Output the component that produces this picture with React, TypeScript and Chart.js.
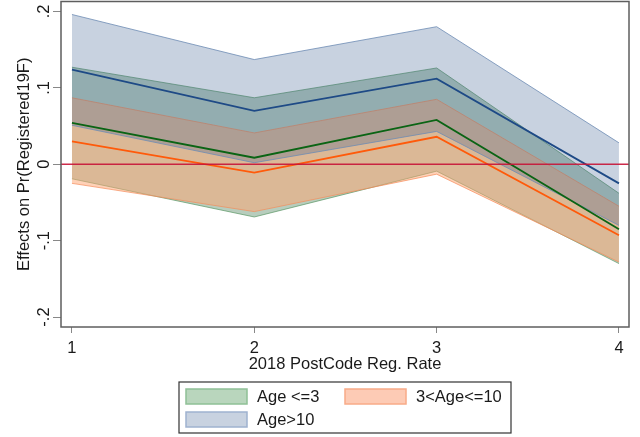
import React, { useEffect, useRef } from "react";
import { Chart, registerables } from "chart.js";

Chart.register(...registerables);

// ---- data ----
const xCategories = [1, 2, 3, 4];
const xTickLabels = ["1", "2", "3", "4"];
const yTickValues = [-0.2, -0.1, 0, 0.1, 0.2];
const yTickLabels = ["-.2", "-.1", "0", ".1", ".2"];
const xMin = 0.94;
const xMax = 4.055;
const yMin = -0.213;
const yMax = 0.213;
const refLineValue = 0;

const groupLabels = ["Age <=3", "3<Age<=10", "Age>10"];

const age3Est = [0.054, 0.0085, 0.058, -0.085];
const age3Lo = [-0.019, -0.069, -0.009, -0.13];
const age3Hi = [0.127, 0.087, 0.126, -0.038];

const age10Est = [0.03, -0.011, 0.036, -0.093];
const age10Lo = [-0.025, -0.062, -0.013, -0.128];
const age10Hi = [0.087, 0.041, 0.085, -0.055];

const ageOldEst = [0.124, 0.07, 0.112, -0.025];
const ageOldLo = [0.051, 0.002, 0.043, -0.08];
const ageOldHi = [0.196, 0.137, 0.18, 0.028];

const xAxisTitle = "2018 PostCode Reg. Rate";
const yAxisTitle = "Effects on Pr(Registered19F)";

// ---- styles ----
const FONT = "'Liberation Sans', Arial, sans-serif";
const FS = 16.5;
const TEXT = "#1a1a1a";
const bandFill = ["rgba(75,130,89,0.4)", "rgba(255,163,111,0.5)", "rgba(50,90,140,0.27)"];
const bandEdge = ["rgba(90,150,100,0.7)", "rgba(245,140,90,0.7)", "rgba(110,140,180,0.8)"];
const legendFill = ["#b9d6bd", "#fdcbb5", "#c8d2e0"];
const legendEdge = ["#8fc096", "#f8ab88", "#9fb2cf"];
const lineColors = ["#0a6414", "#ff5a0a", "#1e4a86"];
const bandOrder = [3, 2, 1];

const toPts = (arr: number[]) => arr.map((y, i) => ({ x: xCategories[i], y }));

const framePlugin = {
  id: "frame",
  afterDatasetsDraw(chart: any) {
    const { ctx, chartArea } = chart;
    const yScale = chart.scales.y;
    const y0 = yScale.getPixelForValue(refLineValue);
    ctx.save();
    ctx.strokeStyle = "rgba(200,20,55,0.9)";
    ctx.lineWidth = 1.5;
    ctx.beginPath();
    ctx.moveTo(chartArea.left, y0);
    ctx.lineTo(chartArea.right, y0);
    ctx.stroke();
    ctx.strokeStyle = "#5e5e5e";
    ctx.lineWidth = 1.5;
    ctx.strokeRect(chartArea.left, chartArea.top, chartArea.right - chartArea.left, chartArea.bottom - chartArea.top);
    ctx.restore();
  },
};

// rotated y tick labels, placed through the y scale
const yLabelPlugin = {
  id: "yLabels",
  afterDraw(chart: any) {
    const { ctx, chartArea } = chart;
    const yScale = chart.scales.y;
    ctx.save();
    ctx.font = `${FS}px ${FONT}`;
    ctx.fillStyle = TEXT;
    ctx.textAlign = "center";
    ctx.textBaseline = "alphabetic";
    yTickValues.forEach((v, i) => {
      const py = yScale.getPixelForValue(v);
      ctx.save();
      ctx.translate(chartArea.left - 12, py);
      ctx.rotate(-Math.PI / 2);
      ctx.fillText(yTickLabels[i], 0, 0);
      ctx.restore();
    });
    ctx.restore();
  },
};

const legendPlugin = {
  id: "boxLegend",
  afterDraw(chart: any) {
    const { ctx, chartArea } = chart;
    const cx = (chartArea.left + chartArea.right) / 2;
    const boxW = 332;
    const left = cx - boxW / 2;
    const top = 382;
    const boxH = 51;
    ctx.save();
    ctx.fillStyle = "#ffffff";
    ctx.fillRect(left, top, boxW, boxH);
    ctx.strokeStyle = "#333";
    ctx.lineWidth = 1.2;
    ctx.strokeRect(left, top, boxW, boxH);
    const slots = [
      { x: left + 7, y: top + 7 },
      { x: left + 166, y: top + 7 },
      { x: left + 7, y: top + 30 },
    ];
    ctx.font = `${FS}px ${FONT}`;
    ctx.textBaseline = "middle";
    groupLabels.forEach((lab, i) => {
      const s = slots[i];
      ctx.fillStyle = legendFill[i];
      ctx.fillRect(s.x, s.y, 61, 15);
      ctx.strokeStyle = legendEdge[i];
      ctx.lineWidth = 1.5;
      ctx.strokeRect(s.x, s.y, 61, 15);
      ctx.fillStyle = TEXT;
      ctx.fillText(lab, s.x + 71, s.y + 8);
    });
    ctx.restore();
  },
};

export default function App() {
  const ref = useRef<HTMLCanvasElement>(null);
  useEffect(() => {
    document.body.style.margin = "0";
    if (!ref.current) return;
    const groups = [
      { est: age3Est, lo: age3Lo, hi: age3Hi },
      { est: age10Est, lo: age10Lo, hi: age10Hi },
      { est: ageOldEst, lo: ageOldLo, hi: ageOldHi },
    ];
    const datasets: any[] = [];
    groups.forEach((g, i) => {
      datasets.push({
        label: groupLabels[i] + " upper",
        data: toPts(g.hi),
        borderColor: bandEdge[i],
        borderWidth: 1,
        pointRadius: 0,
        fill: false,
        order: bandOrder[i],
      });
      datasets.push({
        label: groupLabels[i],
        data: toPts(g.lo),
        borderColor: bandEdge[i],
        backgroundColor: bandFill[i],
        borderWidth: 1,
        pointRadius: 0,
        fill: "-1",
        order: bandOrder[i],
      });
    });
    groups.forEach((g, i) => {
      datasets.push({
        label: groupLabels[i] + " estimate",
        data: toPts(g.est),
        borderColor: lineColors[i],
        borderWidth: 1.8,
        pointRadius: 0,
        fill: false,
        order: 0,
      });
    });

    const chart = new Chart(ref.current, {
      type: "line",
      data: { datasets },
      options: {
        responsive: false,
        animation: false,
        layout: { padding: { top: 1.5, right: 11, bottom: 63, left: 0 } },
        plugins: { legend: { display: false }, tooltip: { enabled: false } },
        scales: {
          x: {
            type: "linear",
            min: xMin,
            max: xMax,
            afterBuildTicks: (s: any) => {
              s.ticks = xCategories.map((v) => ({ value: v }));
            },
            afterFit: (s: any) => {
              s.height = 47;
              s.paddingLeft = 0;
              s.paddingRight = 0;
            },
            ticks: {
              callback: (v: any) => xTickLabels[xCategories.indexOf(Number(v))],
              font: { family: FONT, size: FS },
              color: TEXT,
              padding: 6,
              maxRotation: 0,
            },
            grid: { drawOnChartArea: false, drawTicks: true, tickLength: 6, color: "#888" },
            border: { display: false },
            title: { display: true, text: xAxisTitle, font: { family: FONT, size: FS }, color: TEXT, padding: { top: 0, bottom: 0 } },
          },
          y: {
            type: "linear",
            min: yMin,
            max: yMax,
            afterBuildTicks: (s: any) => {
              s.ticks = yTickValues.map((v) => ({ value: v }));
            },
            afterFit: (s: any) => {
              s.width = 61;
              s.paddingTop = 0;
              s.paddingBottom = 0;
            },
            ticks: { display: false },
            grid: { drawOnChartArea: false, drawTicks: true, tickLength: 8, color: "#888" },
            border: { display: false },
            title: { display: true, text: yAxisTitle, font: { family: FONT, size: FS }, color: TEXT, padding: { top: 15, bottom: 0 } },
          },
        },
      },
      plugins: [framePlugin, yLabelPlugin, legendPlugin],
    });
    return () => chart.destroy();
  }, []);
  return (
    <div style={{ width: 640, height: 437, background: "#fff" }}>
      <canvas ref={ref} width={640} height={437} />
    </div>
  );
}
